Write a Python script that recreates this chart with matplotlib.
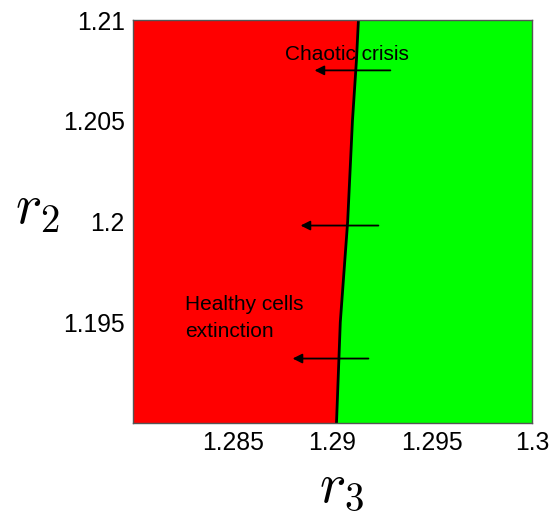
"""Two-parameter regime diagram in the (r3, r2) plane."""

import matplotlib
matplotlib.use("Agg")
import matplotlib.pyplot as plt

plt.rcParams["font.family"] = ["Liberation Sans", "DejaVu Sans"]
plt.rcParams["mathtext.fontset"] = "cm"

# boundary between the two regimes
boundary_r2 = [1.19, 1.195, 1.2, 1.205, 1.208, 1.21]
boundary_r3 = [1.2902, 1.29039, 1.29076, 1.2910, 1.2912, 1.2913]

# crisis-direction arrows: (r3 start, r3 end, r2)
arrow_r3_start = [1.2929, 1.2923, 1.2918]
arrow_r3_end = [1.2891, 1.2884, 1.2880]
arrow_r2 = [1.2075, 1.1998, 1.1932]

x_lim = (1.28, 1.3)
y_lim = (1.19, 1.21)
x_ticks = [1.285, 1.29, 1.295, 1.3]
x_tick_labels = ["1.285", "1.29", "1.295", "1.3"]
y_ticks = [1.195, 1.2, 1.205, 1.21]
y_tick_labels = ["1.195", "1.2", "1.205", "1.21"]

fig = plt.figure(figsize=(5.5, 5.13), dpi=100)
ax = fig.add_axes([0.2418, 0.1754, 0.7255, 0.7856])

ax.fill_betweenx(boundary_r2, x_lim[0], boundary_r3, color="#ff0000", lw=0)
ax.fill_betweenx(boundary_r2, boundary_r3, x_lim[1], color="#00ff00", lw=0)
ax.plot(boundary_r3, boundary_r2, color="black", lw=2)

for xs, xe, y in zip(arrow_r3_start, arrow_r3_end, arrow_r2):
    ax.annotate("", xy=(xe, y), xytext=(xs, y),
                arrowprops=dict(arrowstyle="-|>", color="black", lw=1.3,
                                mutation_scale=14, shrinkA=0, shrinkB=0))

ax.text(1.2876, 1.2083, "Chaotic crisis", fontsize=15, va="center", ha="left")
ax.text(1.2826, 1.1952, "Healthy cells\nextinction", fontsize=15,
        va="center", ha="left", linespacing=1.55)

ax.set_xlim(*x_lim)
ax.set_ylim(*y_lim)
ax.set_xticks(x_ticks)
ax.set_xticklabels(x_tick_labels)
ax.set_yticks(y_ticks)
ax.set_yticklabels(y_tick_labels)
ax.tick_params(length=0, labelsize=17.8, pad=6)
for s in ax.spines.values():
    s.set_color("#555555")
    s.set_linewidth(1)

fig.text(0.068, 0.592, r"$r_2$", fontsize=40, ha="center", va="center")
fig.text(0.62, 0.05, r"$r_3$", fontsize=40, ha="center", va="center")

fig.savefig("out.png", dpi=100)
